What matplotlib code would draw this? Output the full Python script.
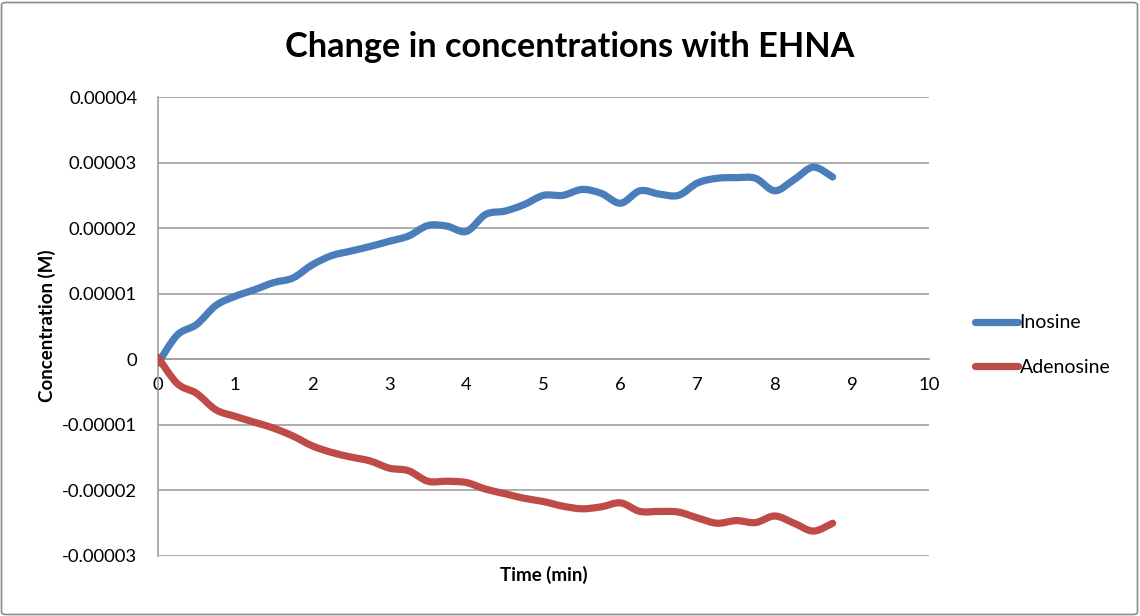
import numpy as np
import matplotlib
matplotlib.use("Agg")
import matplotlib.pyplot as plt
from matplotlib.path import Path
from matplotlib.patches import PathPatch, FancyBboxPatch
from matplotlib.lines import Line2D
from matplotlib.ticker import FuncFormatter

plt.rcParams['font.family'] = ['Lato', 'DejaVu Sans']

# time points (min)
time_min = [0, 0.25, 0.5, 0.75, 1.0, 1.25, 1.5, 1.75, 2.0, 2.25, 2.5, 2.75,
            3.0, 3.25, 3.5, 3.75, 4.0, 4.25, 4.5, 4.75, 5.0, 5.25, 5.5, 5.75,
            6.0, 6.25, 6.5, 6.75, 7.0, 7.25, 7.5, 7.75, 8.0, 8.25, 8.5, 8.75]

# concentrations (M)
inosine = [-0.6e-6, 3.7e-6, 5.3e-6, 8.2e-6, 9.6e-6, 10.6e-6, 11.7e-6, 12.4e-6,
           14.4e-6, 15.8e-6, 16.5e-6, 17.2e-6, 18.0e-6, 18.8e-6, 20.4e-6, 20.3e-6,
           19.5e-6, 22.1e-6, 22.6e-6, 23.6e-6, 25.0e-6, 25.0e-6, 25.9e-6, 25.3e-6,
           23.8e-6, 25.7e-6, 25.2e-6, 25.0e-6, 26.9e-6, 27.6e-6, 27.7e-6, 27.6e-6,
           25.7e-6, 27.4e-6, 29.3e-6, 27.8e-6]

adenosine = [0.3e-6, -3.7e-6, -5.2e-6, -7.7e-6, -8.7e-6, -9.6e-6, -10.5e-6, -11.7e-6,
             -13.2e-6, -14.2e-6, -14.9e-6, -15.5e-6, -16.6e-6, -17.0e-6, -18.6e-6, -18.6e-6,
             -18.8e-6, -19.8e-6, -20.5e-6, -21.2e-6, -21.7e-6, -22.4e-6, -22.8e-6, -22.5e-6,
             -21.9e-6, -23.2e-6, -23.2e-6, -23.3e-6, -24.2e-6, -25.0e-6, -24.6e-6, -24.9e-6,
             -23.9e-6, -25.0e-6, -26.2e-6, -25.0e-6]

blue = '#4a7ebb'
red = '#be4b48'
grid_col = '#a0a0a0'


def smooth_path(x, y):
    # excel style smoothed line: bezier segments through the data points
    x = np.asarray(x, float)
    y = np.asarray(y, float)
    px = np.concatenate([[x[0]], x, [x[-1]]])
    py = np.concatenate([[y[0]], y, [y[-1]]])
    verts = [(x[0], y[0])]
    codes = [Path.MOVETO]
    for i in range(1, len(px) - 2):
        c1 = (px[i] + (px[i + 1] - px[i - 1]) / 6, py[i] + (py[i + 1] - py[i - 1]) / 6)
        c2 = (px[i + 1] - (px[i + 2] - px[i]) / 6, py[i + 1] - (py[i + 2] - py[i]) / 6)
        verts += [c1, c2, (px[i + 1], py[i + 1])]
        codes += [Path.CURVE4] * 3
    return Path(verts, codes)


fig = plt.figure(figsize=(11.4, 6.16), dpi=100)
ax = fig.add_axes([158 / 1140, 1 - 556 / 616, (929 - 158) / 1140, (556 - 97) / 616])

for ys, col in [(inosine, blue), (adenosine, red)]:
    patch = PathPatch(smooth_path(time_min, ys), facecolor='none', edgecolor=col,
                      lw=5.2, capstyle='round', joinstyle='round', zorder=3)
    ax.add_patch(patch)

ax.set_xlim(0, 10)
ax.set_ylim(-0.00003, 0.00004)
ax.set_xticks(np.arange(0, 11, 1))
ax.set_yticks(np.arange(-0.00003, 0.000041, 0.00001))
ax.yaxis.set_major_formatter(FuncFormatter(lambda v, p: '0' if abs(v) < 1e-12 else '%.5f' % v))
ax.yaxis.grid(True, color=grid_col, lw=1.2)
ax.set_axisbelow(True)

for s in ['top', 'right']:
    ax.spines[s].set_visible(False)
ax.spines['left'].set_color(grid_col)
ax.spines['left'].set_linewidth(1.2)
ax.spines['bottom'].set_position(('data', 0))
ax.spines['bottom'].set_color(grid_col)
ax.spines['bottom'].set_linewidth(1.2)
ax.tick_params(axis='both', length=0, labelsize=13.3, colors='black')
ax.tick_params(axis='y', pad=15)
ax.tick_params(axis='x', pad=13)

fig.text(0.5, 1 - 47 / 616, 'Change in concentrations with EHNA', ha='center', va='center',
         fontsize=24.7, fontweight='bold')
fig.text(47 / 1140, 1 - 326 / 616, 'Concentration (M)', rotation=90, ha='center', va='center',
         fontsize=13.5, fontweight='bold')
fig.text(543.5 / 1140, 1 - 575 / 616, 'Time (min)', ha='center', va='center',
         fontsize=13.5, fontweight='bold')

handles = [Line2D([], [], color=blue, lw=5.2, solid_capstyle='round'),
           Line2D([], [], color=red, lw=5.2, solid_capstyle='round')]
fig.legend(handles, ['Inosine', 'Adenosine'], loc='center left',
           bbox_to_anchor=(975 / 1140, 1 - 345 / 616), frameon=False, fontsize=14,
           handlelength=2.2, handletextpad=0.1, labelspacing=1.4, borderpad=0, borderaxespad=0)

border = FancyBboxPatch((1.5 / 1140, 1.5 / 616), 1136 / 1140, 612 / 616,
                        boxstyle='round,pad=0,rounding_size=0.004', transform=fig.transFigure,
                        facecolor='none', edgecolor='#8c8c8c', lw=1.2)
fig.patches.append(border)

fig.savefig('out.png', dpi=100)
